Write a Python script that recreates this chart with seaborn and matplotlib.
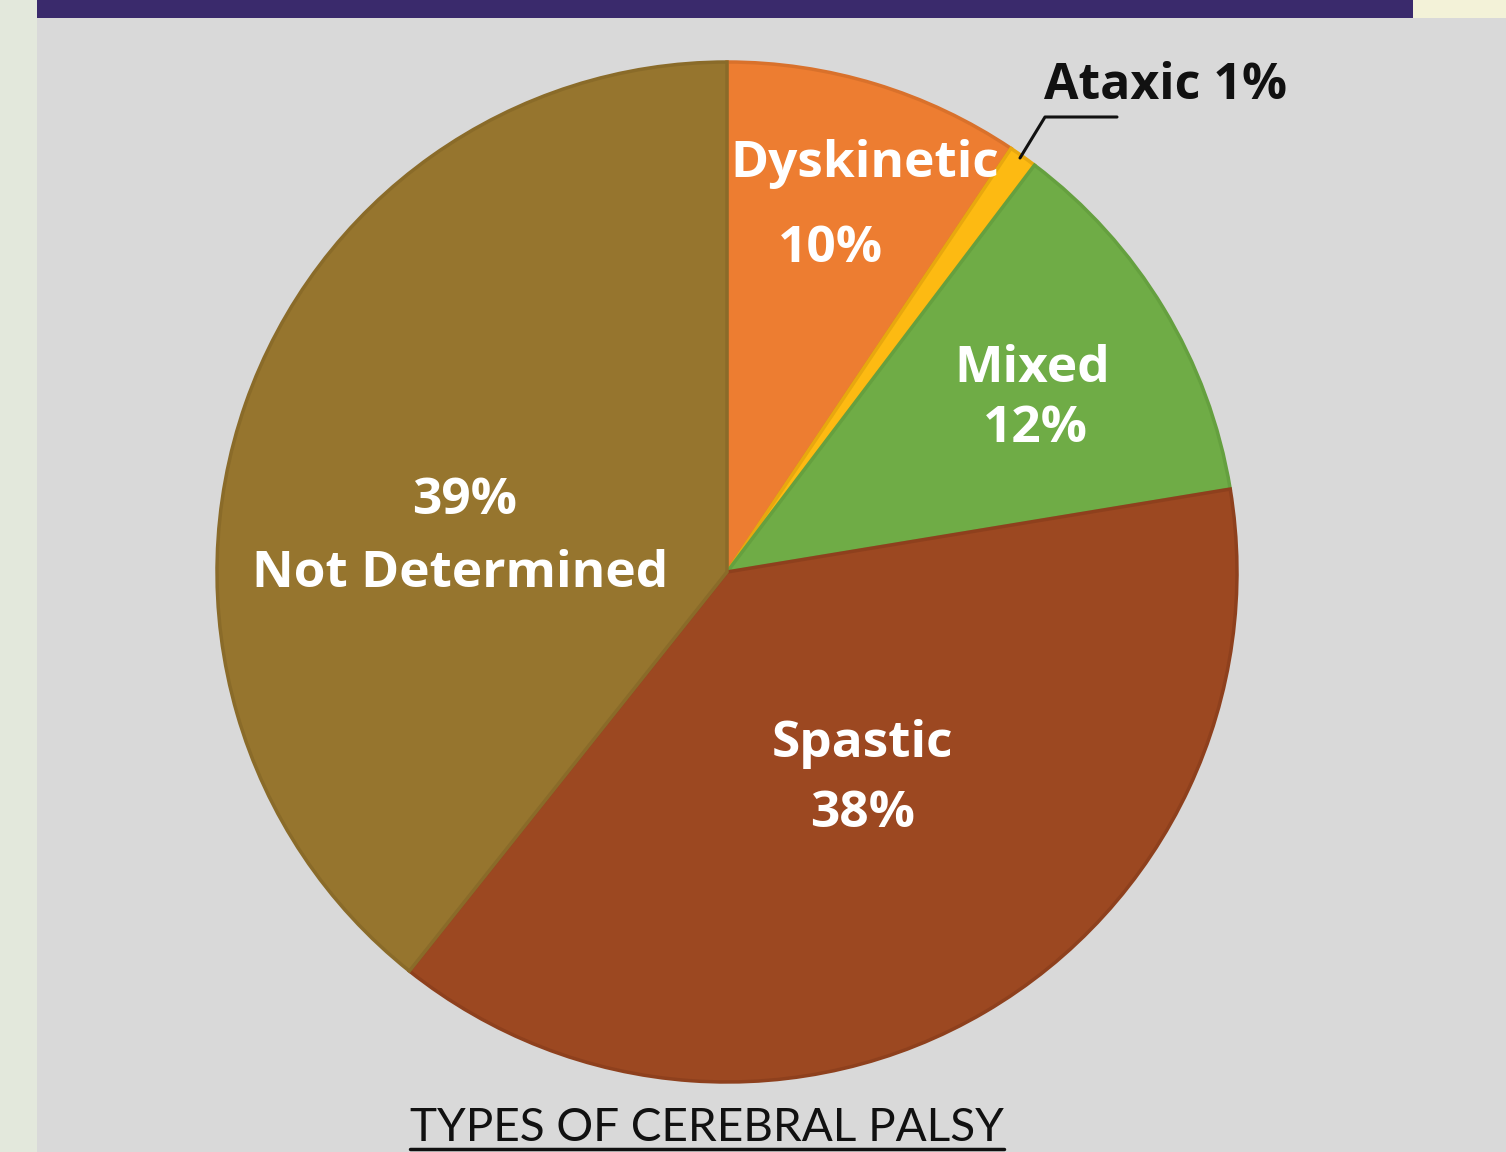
import matplotlib
matplotlib.use("Agg")
import matplotlib.pyplot as plt
import seaborn as sns
import numpy as np

# ---- data ----
categories = ["Dyskinetic", "Ataxic", "Mixed", "Spastic", "Not Determined"]
slice_shares = [9.4, 0.9, 12.1, 38.3, 39.3]          # measured from the wedge angles
percent_labels = ["10%", "1%", "12%", "38%", "39%"]   # as printed on the chart
slice_colors = ["#ED7D31", "#FDBA12", "#6FAC46", "#9C4821", "#96752E"]
edge_colors = ["#D9712B", "#E8A80F", "#65A03F", "#8E401D", "#8A6B29"]
chart_title = "TYPES OF CEREBRAL PALSY"

sns.set_theme(style="white")
plt.rcParams['font.family'] = ['Open Sans', 'DejaVu Sans']

W, H = 1506, 1152
fig = plt.figure(figsize=(W / 100, H / 100), dpi=100)
fig.patch.set_facecolor("#D9D9D9")

# decorative frame pieces
fig.add_artist(plt.Rectangle((0, 0), 37 / W, 1, transform=fig.transFigure,
                             facecolor="#E3E8DC", edgecolor="none"))
fig.add_artist(plt.Rectangle((37 / W, 1 - 18 / H), (1413 - 37) / W, 18 / H,
                             transform=fig.transFigure, facecolor="#3A2A6C", edgecolor="none"))
fig.add_artist(plt.Rectangle((1413 / W, 1 - 18 / H), (W - 1413) / W, 18 / H,
                             transform=fig.transFigure, facecolor="#F3F2D8", edgecolor="none"))

cx, cy, r = 727, 572, 510
ax = fig.add_axes([(cx - r) / W, (H - cy - r) / H, 2 * r / W, 2 * r / H])
ax.set_facecolor("none")

wedges, _ = ax.pie(slice_shares, colors=slice_colors, startangle=90, counterclock=False,
                   radius=1.0, wedgeprops=dict(linewidth=2.5))
for w, ec in zip(wedges, edge_colors):
    w.set_edgecolor(ec)
ax.set_xlim(-1, 1)
ax.set_ylim(-1, 1)
ax.set_aspect("auto")
ax.axis("off")

def px(x, y):
    return ((x - cx) / r, (cy - y) / r)

lab = dict(color="white", fontsize=37, fontweight="bold", ha="center", va="center")
ax.text(*px(865, 164), categories[0], **lab)
ax.text(*px(830, 249), percent_labels[0], **lab)
ax.text(*px(1032, 369), categories[2], **lab)
ax.text(*px(1035, 429), percent_labels[2], **lab)
ax.text(*px(862, 744), categories[3], **lab)
ax.text(*px(863, 814), percent_labels[3], **lab)
ax.text(*px(465, 501), percent_labels[4], **lab)
ax.text(*px(460, 574), categories[4], **lab)

ax.text(*px(1165, 86), f"{categories[1]} {percent_labels[1]}", color="#111111", fontsize=36,
        fontweight="bold", ha="center", va="center", clip_on=False)
lx, ly = zip(px(1020, 158), px(1045, 117), px(1117, 117))
ax.plot(lx, ly, color="#111111", linewidth=2.2, clip_on=False)

t = fig.text(707 / W, 1 - 1128 / H, chart_title, fontsize=33, color="#111111",
             ha="center", va="center", family=['Lato', 'DejaVu Sans'])
fig.canvas.draw()
bb = t.get_window_extent().transformed(fig.transFigure.inverted())
fig.add_artist(plt.Line2D([bb.x0, bb.x1], [1 - 1149 / H, 1 - 1149 / H],
                          transform=fig.transFigure, color="#111111", linewidth=2.5))

fig.savefig("out.png", dpi=100, facecolor=fig.get_facecolor())
